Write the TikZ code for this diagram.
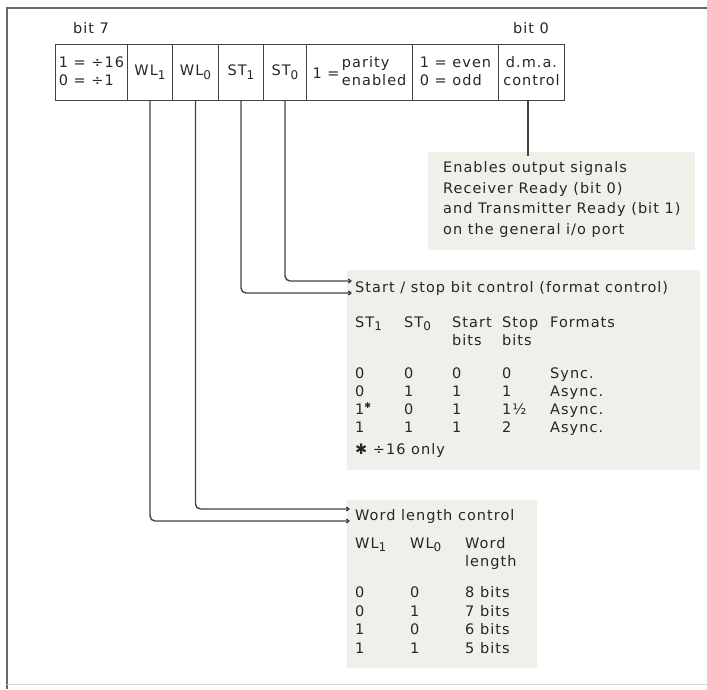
\documentclass[tikz,border=0pt]{standalone}
\usepackage{fontspec}
\setmainfont{DejaVu Sans}[LetterSpace=7]
\usetikzlibrary{arrows.meta}
\definecolor{ink}{RGB}{38,38,34}
\definecolor{wirec}{RGB}{68,68,60}
\definecolor{screen}{RGB}{238,241,234}
\definecolor{framec}{RGB}{105,105,95}
\definecolor{framelt}{RGB}{215,215,210}
\newcommand\lowsub[1]{\raisebox{-0.5ex}{\fontsize{12}{12}\selectfont #1}}
\newcommand\supstar{\raisebox{0.7ex}{\fontsize{8}{8}\selectfont ✱}}
\tikzset{
  txt/.style={font=\fontsize{14.5}{20.5}\selectfont, text=ink, inner sep=0pt, anchor=base west, align=left},
  hdr/.style={txt, font=\fontsize{14.5}{18}\selectfont},
  cell/.style={draw=wirec, line width=1pt, minimum height=56pt, inner sep=0pt, anchor=north west,
               text=ink, font=\fontsize{14.5}{18}\selectfont, align=center},
  wire/.style={draw=wirec, line width=1.4pt, rounded corners=5pt, -{Straight Barb[length=2.5pt,width=4pt]}},
  plain wire/.style={draw=wirec, line width=1.4pt},
}
\begin{document}
\begin{tikzpicture}[x=1pt,y=-1pt]
\useasboundingbox (0,0) rectangle (707,689);
% background screens
\fill[screen] (428,152) rectangle (695,250);
\fill[screen] (347,270) rectangle (700,470);
\fill[screen] (347,500) rectangle (537,668);
% frame
\draw[framec, line width=2pt] (707,8) -- (7,8) -- (7,689);
\draw[framelt, line width=1pt] (7,684) -- (707,684);
% bit labels
\node[txt, anchor=base] (b7) at (91,33) {bit 7};
\node[txt, anchor=base] (b0) at (531,33) {bit 0};
% register cells
\node[cell, minimum width=72pt] (c1) at (55,44) {\begin{tabular}{@{}l@{}}1 = ÷16\\0 = ÷1\end{tabular}};
\node[cell, minimum width=45pt] (c2) at (127,44) {WL\lowsub{1}};
\node[cell, minimum width=46pt] (c3) at (172,44) {WL\lowsub{0}};
\node[cell, minimum width=45pt] (c4) at (218,44) {ST\lowsub{1}};
\node[cell, minimum width=43pt] (c5) at (263,44) {ST\lowsub{0}};
\node[cell, minimum width=106pt] (c6) at (306,44) {\raisebox{-2pt}{1 =}\,\begin{tabular}{@{}l@{}}parity\\enabled\end{tabular}};
\node[cell, minimum width=86pt] (c7) at (412,44) {\begin{tabular}{@{}l@{}}1 = even\\0 = odd\end{tabular}};
\node[cell, minimum width=66pt] (c8) at (498,44) {\begin{tabular}{@{}c@{}}d.m.a.\\control\end{tabular}};
% d.m.a. text (anchor = baseline of last line)
\node[txt] (dma) at (443,234) {Enables output signals\\Receiver Ready (bit 0)\\and Transmitter Ready (bit 1)\\on the general i/o port};
\coordinate (dmaend) at (528,156);
\draw[plain wire] (c8.south -| dmaend) -- (dmaend);
% start/stop block
\node[txt] (sstitle) at (355,292) {Start / stop bit control (format control)};
\coordinate (ssA) at (352,281);
\coordinate (ssB) at (352,293);
\draw[wire] (c5.south) |- (ssA);
\draw[wire] (c4.south) |- (ssB);
\node[hdr] (sh1) at (355,327) {ST\lowsub{1}};
\node[hdr] (sh2) at (404,327) {ST\lowsub{0}};
\node[hdr] (sh3) at (452,345) {Start\\bits};
\node[hdr] (sh4) at (502,345) {Stop\\bits};
\node[hdr] (sh5) at (550,327) {Formats};
\foreach \r/\a/\b/\c/\d/\e in {1/0/0/0/0/Sync.,2/0/1/1/1/Async.,3/1\supstar/0/1/1½/Async.,4/1/1/1/2/Async.}{
  \pgfmathsetmacro\yy{360+18*\r}
  \node[txt] (sr\r a) at (355,\yy) {\a};
  \node[txt] (sr\r b) at (404,\yy) {\b};
  \node[txt] (sr\r c) at (452,\yy) {\c};
  \node[txt] (sr\r d) at (502,\yy) {\d};
  \node[txt] (sr\r e) at (550,\yy) {\e};
}
\node[txt] (ssnote) at (355,454) {✱ ÷16 only};
% word length block
\node[txt] (wltitle) at (355,520) {Word length control};
\coordinate (wlA) at (350,509);
\coordinate (wlB) at (350,521);
\draw[wire] (c3.south) |- (wlA);
\draw[wire] (c2.south) |- (wlB);
\node[hdr] (wh1) at (355,548) {WL\lowsub{1}};
\node[hdr] (wh2) at (410,548) {WL\lowsub{0}};
\node[hdr] (wh3) at (465,566) {Word\\length};
\foreach \r/\a/\b/\c in {1/0/0/8 bits,2/0/1/7 bits,3/1/0/6 bits,4/1/1/5 bits}{
  \pgfmathsetmacro\yy{579+18.5*\r}
  \node[txt] (wr\r a) at (355,\yy) {\a};
  \node[txt] (wr\r b) at (410,\yy) {\b};
  \node[txt] (wr\r c) at (465,\yy) {\c};
}
\end{tikzpicture}
\end{document}
